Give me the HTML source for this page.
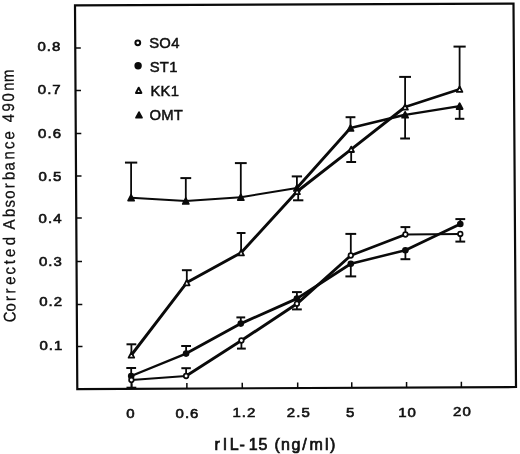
<!DOCTYPE html>
<html><head><meta charset="utf-8"><title>chart</title>
<style>
html,body{margin:0;padding:0;background:#fff;}
body{width:520px;height:454px;overflow:hidden;}
svg{display:block;will-change:transform;}
text{font-family:"Liberation Sans",sans-serif;fill:#111;}
</style></head><body>
<svg width="520" height="454" viewBox="0 0 520 454">
<rect width="520" height="454" fill="#fff"/>

<polygon points="75,5.3 513.5,3.7 516,387 77.3,389.1" fill="none" stroke="#0a0a0a" stroke-width="2.2" stroke-linejoin="miter"/>
<g stroke="#0a0a0a" stroke-width="1.5">
<line x1="75.3" y1="48.1" x2="80.8" y2="48.08"/>
<line x1="75.5" y1="90.6" x2="81.0" y2="90.58"/>
<line x1="75.8" y1="133.4" x2="81.3" y2="133.38"/>
<line x1="76.0" y1="175.9" x2="81.5" y2="175.88"/>
<line x1="76.3" y1="218" x2="81.8" y2="217.98"/>
<line x1="76.5" y1="261.6" x2="82.0" y2="261.58000000000004"/>
<line x1="76.8" y1="304.5" x2="82.3" y2="304.48"/>
<line x1="77.0" y1="346.4" x2="82.5" y2="346.38"/>
<line x1="131.8" y1="388.8" x2="131.77" y2="383.3"/>
<line x1="186.9" y1="388.6" x2="186.87" y2="383.1"/>
<line x1="242.3" y1="388.3" x2="242.27" y2="382.8"/>
<line x1="297.7" y1="388.0" x2="297.67" y2="382.5"/>
<line x1="351.8" y1="387.8" x2="351.77000000000004" y2="382.3"/>
<line x1="406.6" y1="387.5" x2="406.57000000000005" y2="382.0"/>
<line x1="461.4" y1="387.3" x2="461.37" y2="381.8"/>
</g>
<g stroke="#0a0a0a" stroke-linecap="round">
<line x1="131.1" y1="197.7" x2="185.8" y2="201" stroke-width="1.9"/><line x1="185.8" y1="201" x2="240.8" y2="197.2" stroke-width="1.9"/><line x1="240.8" y1="197.2" x2="296.9" y2="188" stroke-width="1.9"/><line x1="296.9" y1="188" x2="350.5" y2="128" stroke-width="2.8"/><line x1="350.5" y1="128" x2="405.1" y2="114.8" stroke-width="2.5"/><line x1="405.1" y1="114.8" x2="459.6" y2="106.1" stroke-width="2.3"/>
<line x1="131.4" y1="355.0" x2="186.8" y2="282.6" stroke-width="2.9"/><line x1="186.8" y1="282.6" x2="241.1" y2="252.7" stroke-width="2.9"/><line x1="241.1" y1="252.7" x2="297.1" y2="191.5" stroke-width="2.9"/><line x1="297.1" y1="191.5" x2="351.2" y2="149.3" stroke-width="2.9"/><line x1="351.2" y1="149.3" x2="405.1" y2="107" stroke-width="2.9"/><line x1="405.1" y1="107" x2="459.6" y2="89.2" stroke-width="2.5"/>
<line x1="131.2" y1="376" x2="186.1" y2="353.6" stroke-width="2.4"/><line x1="186.1" y1="353.6" x2="240.8" y2="323.6" stroke-width="2.8"/><line x1="240.8" y1="323.6" x2="296.9" y2="298.6" stroke-width="2.8"/><line x1="296.9" y1="298.6" x2="350.8" y2="263.8" stroke-width="2.8"/><line x1="350.8" y1="263.8" x2="405.4" y2="250.2" stroke-width="2.5"/><line x1="405.4" y1="250.2" x2="460.3" y2="224" stroke-width="2.8"/>
<line x1="131.4" y1="380" x2="186.1" y2="376" stroke-width="1.9"/><line x1="186.1" y1="376" x2="241.4" y2="340.5" stroke-width="2.8"/><line x1="241.4" y1="340.5" x2="296.9" y2="303.8" stroke-width="2.9"/><line x1="296.9" y1="303.8" x2="350.8" y2="255.5" stroke-width="2.9"/><line x1="350.8" y1="255.5" x2="405.4" y2="234.5" stroke-width="2.6"/><line x1="405.4" y1="234.5" x2="460.3" y2="233.9" stroke-width="2.0"/>
</g>
<g stroke="#0a0a0a" stroke-width="1.8">
<line x1="131.1" y1="197.7" x2="131.1" y2="162.6"/><line x1="124.94999999999999" y1="162.6" x2="137.25" y2="162.6" stroke-width="2.0"/>
<line x1="185.8" y1="201" x2="185.8" y2="178.1"/><line x1="180.4" y1="178.1" x2="191.20000000000002" y2="178.1" stroke-width="2.0"/>
<line x1="240.8" y1="197.2" x2="240.8" y2="163.1"/><line x1="234.9" y1="163.1" x2="246.70000000000002" y2="163.1" stroke-width="2.0"/>
<line x1="296.9" y1="188" x2="296.9" y2="176.4"/><line x1="291.75" y1="176.4" x2="302.04999999999995" y2="176.4" stroke-width="2.0"/>
<line x1="350.5" y1="128" x2="350.5" y2="117.2"/><line x1="345.6" y1="117.2" x2="355.4" y2="117.2" stroke-width="2.0"/>
<line x1="405.1" y1="114.8" x2="405.1" y2="138.5"/><line x1="400.20000000000005" y1="138.5" x2="410.0" y2="138.5" stroke-width="2.0"/>
<line x1="459.6" y1="106.1" x2="459.6" y2="118.8"/><line x1="454.90000000000003" y1="118.8" x2="464.3" y2="118.8" stroke-width="2.0"/>
<line x1="131.4" y1="355.0" x2="131.4" y2="344.3"/><line x1="126.5" y1="344.3" x2="136.3" y2="344.3" stroke-width="2.0"/>
<line x1="186.8" y1="282.6" x2="186.8" y2="270.2"/><line x1="181.9" y1="270.2" x2="191.70000000000002" y2="270.2" stroke-width="2.0"/>
<line x1="241.1" y1="252.7" x2="241.1" y2="233"/><line x1="236.7" y1="233" x2="245.5" y2="233" stroke-width="2.0"/>
<line x1="298.20000000000005" y1="191.5" x2="298.20000000000005" y2="200.3"/><line x1="293.05000000000007" y1="200.3" x2="303.35" y2="200.3" stroke-width="2.0"/>
<line x1="351.2" y1="149.3" x2="351.2" y2="162"/><line x1="346.3" y1="162" x2="356.09999999999997" y2="162" stroke-width="2.0"/>
<line x1="405.1" y1="107" x2="405.1" y2="76.9"/><line x1="399.20000000000005" y1="76.9" x2="411.0" y2="76.9" stroke-width="2.0"/>
<line x1="459.6" y1="89.2" x2="459.6" y2="46.6"/><line x1="453.5" y1="46.6" x2="465.70000000000005" y2="46.6" stroke-width="2.0"/>
<line x1="131.2" y1="376" x2="131.2" y2="368"/><line x1="126.29999999999998" y1="368" x2="136.1" y2="368" stroke-width="2.0"/>
<line x1="186.1" y1="353.6" x2="186.1" y2="346"/><line x1="181.2" y1="346" x2="191.0" y2="346" stroke-width="2.0"/>
<line x1="240.8" y1="323.6" x2="240.8" y2="317.4"/><line x1="236.4" y1="317.4" x2="245.20000000000002" y2="317.4" stroke-width="2.0"/>
<line x1="296.9" y1="298.6" x2="296.9" y2="292.1"/><line x1="292.0" y1="292.1" x2="301.79999999999995" y2="292.1" stroke-width="2.0"/>
<line x1="350.8" y1="263.8" x2="350.8" y2="276.4"/><line x1="345.40000000000003" y1="276.4" x2="356.2" y2="276.4" stroke-width="2.0"/>
<line x1="405.4" y1="250.2" x2="405.4" y2="259.2"/><line x1="400.5" y1="259.2" x2="410.29999999999995" y2="259.2" stroke-width="2.0"/>
<line x1="460.3" y1="224" x2="460.3" y2="219.1"/><line x1="455.40000000000003" y1="219.1" x2="465.2" y2="219.1" stroke-width="2.0"/>
<line x1="131.4" y1="380" x2="131.4" y2="387.7"/><line x1="126.5" y1="387.7" x2="136.3" y2="387.7" stroke-width="2.0"/>
<line x1="186.1" y1="376" x2="186.1" y2="368.2"/><line x1="181.35" y1="368.2" x2="190.85" y2="368.2" stroke-width="2.0"/>
<line x1="241.4" y1="340.5" x2="241.4" y2="348.6"/><line x1="237.0" y1="348.6" x2="245.8" y2="348.6" stroke-width="2.0"/>
<line x1="296.9" y1="303.8" x2="296.9" y2="309.4"/><line x1="292.0" y1="309.4" x2="301.79999999999995" y2="309.4" stroke-width="2.0"/>
<line x1="350.8" y1="255.5" x2="350.8" y2="233.9"/><line x1="345.40000000000003" y1="233.9" x2="356.2" y2="233.9" stroke-width="2.0"/>
<line x1="405.4" y1="234.5" x2="405.4" y2="227.1"/><line x1="400.5" y1="227.1" x2="410.29999999999995" y2="227.1" stroke-width="2.0"/>
<line x1="460.3" y1="233.9" x2="460.3" y2="241.6"/><line x1="455.40000000000003" y1="241.6" x2="465.2" y2="241.6" stroke-width="2.0"/>
</g>
<polygon points="131.1,194.8 134.1,200.6 128.1,200.6" fill="#0a0a0a" stroke="#0a0a0a" stroke-width="1.8" stroke-linejoin="round"/>
<polygon points="185.8,198.1 188.8,203.9 182.8,203.9" fill="#0a0a0a" stroke="#0a0a0a" stroke-width="1.8" stroke-linejoin="round"/>
<polygon points="240.8,194.3 243.8,200.1 237.8,200.1" fill="#0a0a0a" stroke="#0a0a0a" stroke-width="1.8" stroke-linejoin="round"/>
<polygon points="296.9,185.1 299.9,190.9 293.9,190.9" fill="#0a0a0a" stroke="#0a0a0a" stroke-width="1.8" stroke-linejoin="round"/>
<polygon points="350.5,125.1 353.5,130.9 347.5,130.9" fill="#0a0a0a" stroke="#0a0a0a" stroke-width="1.8" stroke-linejoin="round"/>
<polygon points="405.1,111.9 408.1,117.7 402.1,117.7" fill="#0a0a0a" stroke="#0a0a0a" stroke-width="1.8" stroke-linejoin="round"/>
<polygon points="459.6,103.2 462.6,109.0 456.6,109.0" fill="#0a0a0a" stroke="#0a0a0a" stroke-width="1.8" stroke-linejoin="round"/>
<polygon points="131.4,352.3 134.20000000000002,357.7 128.6,357.7" fill="#fff" stroke="#0a0a0a" stroke-width="1.8" stroke-linejoin="round"/>
<polygon points="186.8,279.9 189.60000000000002,285.3 184.0,285.3" fill="#fff" stroke="#0a0a0a" stroke-width="1.8" stroke-linejoin="round"/>
<polygon points="241.1,250.0 243.9,255.4 238.29999999999998,255.4" fill="#fff" stroke="#0a0a0a" stroke-width="1.8" stroke-linejoin="round"/>
<polygon points="297.1,188.8 299.90000000000003,194.2 294.3,194.2" fill="#fff" stroke="#0a0a0a" stroke-width="1.8" stroke-linejoin="round"/>
<polygon points="351.2,146.6 354.0,152.0 348.4,152.0" fill="#fff" stroke="#0a0a0a" stroke-width="1.8" stroke-linejoin="round"/>
<polygon points="405.1,104.3 407.90000000000003,109.7 402.3,109.7" fill="#fff" stroke="#0a0a0a" stroke-width="1.8" stroke-linejoin="round"/>
<polygon points="459.6,86.5 462.40000000000003,91.9 456.8,91.9" fill="#fff" stroke="#0a0a0a" stroke-width="1.8" stroke-linejoin="round"/>
<circle cx="131.2" cy="376" r="3.3" fill="#0a0a0a"/>
<circle cx="186.1" cy="353.6" r="3.3" fill="#0a0a0a"/>
<circle cx="240.8" cy="323.6" r="3.3" fill="#0a0a0a"/>
<circle cx="296.9" cy="298.6" r="3.3" fill="#0a0a0a"/>
<circle cx="350.8" cy="263.8" r="3.3" fill="#0a0a0a"/>
<circle cx="405.4" cy="250.2" r="3.3" fill="#0a0a0a"/>
<circle cx="460.3" cy="224" r="3.3" fill="#0a0a0a"/>
<circle cx="131.4" cy="380" r="2.3" fill="#fff" stroke="#0a0a0a" stroke-width="1.7"/>
<circle cx="186.1" cy="376" r="2.3" fill="#fff" stroke="#0a0a0a" stroke-width="1.7"/>
<circle cx="241.4" cy="340.5" r="2.3" fill="#fff" stroke="#0a0a0a" stroke-width="1.7"/>
<circle cx="296.9" cy="303.8" r="2.3" fill="#fff" stroke="#0a0a0a" stroke-width="1.7"/>
<circle cx="350.8" cy="255.5" r="2.3" fill="#fff" stroke="#0a0a0a" stroke-width="1.7"/>
<circle cx="405.4" cy="234.5" r="2.3" fill="#fff" stroke="#0a0a0a" stroke-width="1.7"/>
<circle cx="460.3" cy="233.9" r="2.3" fill="#fff" stroke="#0a0a0a" stroke-width="1.7"/>
<circle cx="137.8" cy="42.8" r="2.4" fill="#fff" stroke="#0a0a0a" stroke-width="2"/>
<circle cx="138.1" cy="65.8" r="3.7" fill="#0a0a0a"/>
<polygon points="138.7,87.7 141.39999999999998,92.9 136.0,92.9" fill="#fff" stroke="#0a0a0a" stroke-width="2.0" stroke-linejoin="round"/>
<polygon points="139,112.1 142.0,117.7 136.0,117.7" fill="#0a0a0a" stroke="#0a0a0a" stroke-width="1.7" stroke-linejoin="round"/>
<text x="149.20000000000002" y="48.2" font-size="14.8" stroke="#111" stroke-width="0.5" letter-spacing="0.3">SO4</text>
<text x="149.70000000000002" y="71.8" font-size="14.8" stroke="#111" stroke-width="0.5" letter-spacing="0.3">ST1</text>
<text x="150.4" y="96.0" font-size="14.8" stroke="#111" stroke-width="0.5" letter-spacing="0.3">KK1</text>
<text x="149.4" y="120.2" font-size="14.8" stroke="#111" stroke-width="0.5" letter-spacing="0.3">OMT</text>
<text transform="translate(37.5,51.1) scale(1.12,1)" font-size="13.4" stroke="#111" stroke-width="0.6" letter-spacing="0.9">0.8</text>
<text transform="translate(37.8,94.3) scale(1.12,1)" font-size="13.4" stroke="#111" stroke-width="0.6" letter-spacing="0.9">0.7</text>
<text transform="translate(38.1,137.6) scale(1.12,1)" font-size="13.4" stroke="#111" stroke-width="0.6" letter-spacing="0.9">0.6</text>
<text transform="translate(38.4,180.5) scale(1.12,1)" font-size="13.4" stroke="#111" stroke-width="0.6" letter-spacing="0.9">0.5</text>
<text transform="translate(38.6,222.6) scale(1.12,1)" font-size="13.4" stroke="#111" stroke-width="0.6" letter-spacing="0.9">0.4</text>
<text transform="translate(38.9,266.2) scale(1.12,1)" font-size="13.4" stroke="#111" stroke-width="0.6" letter-spacing="0.9">0.3</text>
<text transform="translate(39.2,305.6) scale(1.12,1)" font-size="13.4" stroke="#111" stroke-width="0.6" letter-spacing="0.9">0.2</text>
<text transform="translate(39.5,349.6) scale(1.12,1)" font-size="13.4" stroke="#111" stroke-width="0.6" letter-spacing="0.9">0.1</text>
<text transform="translate(131.0,417.7) scale(1.12,1)" text-anchor="middle" font-size="13.4" stroke="#111" stroke-width="0.6" letter-spacing="0.9">0</text>
<text transform="translate(187.5,417.5) scale(1.12,1)" text-anchor="middle" font-size="13.4" stroke="#111" stroke-width="0.6" letter-spacing="0.9">0.6</text>
<text transform="translate(244.4,417.2) scale(1.12,1)" text-anchor="middle" font-size="13.4" stroke="#111" stroke-width="0.6" letter-spacing="0.9">1.2</text>
<text transform="translate(298.8,417.0) scale(1.12,1)" text-anchor="middle" font-size="13.4" stroke="#111" stroke-width="0.6" letter-spacing="0.9">2.5</text>
<text transform="translate(350.8,416.8) scale(1.12,1)" text-anchor="middle" font-size="13.4" stroke="#111" stroke-width="0.6" letter-spacing="0.9">5</text>
<text transform="translate(407.5,416.5) scale(1.12,1)" text-anchor="middle" font-size="13.4" stroke="#111" stroke-width="0.6" letter-spacing="0.9">10</text>
<text transform="translate(462.40000000000003,416.3) scale(1.12,1)" text-anchor="middle" font-size="13.4" stroke="#111" stroke-width="0.6" letter-spacing="0.9">20</text>
<text x="214.4 222.7 229.8 239.6 248.7 258.5 266.6 274.6 280.9 291.5 302.2 309.4 325.0 330.0" y="449.9" font-size="16" stroke="#111" stroke-width="0.7">rIL-15 (ng/ml)</text>
<text transform="translate(15.6,330) rotate(-90.42) scale(1,1.12)" x="7.8 18.6 28.9 36.5 45.3 55.5 65.8 73.1 84.8 92.6 100.4 112.9 122.5 131.3 141.7 149.9 159.6 170.5 181.0 190.6 199.1 207.7 218.5 228.6 239.3 248.1" y="0" font-size="15" fill="#111" stroke="#111" stroke-width="0.25">Corrected Absorbance 490nm</text>
</svg></body></html>
